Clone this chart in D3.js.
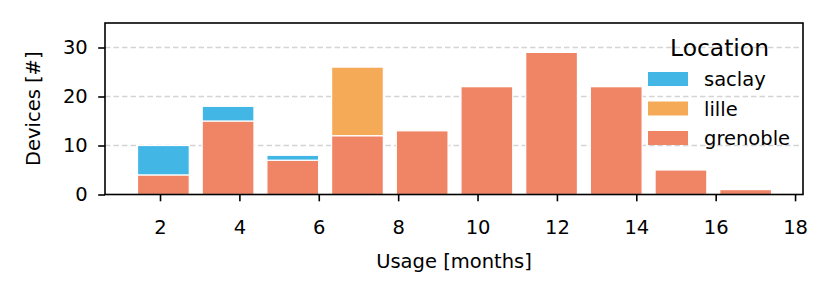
<!DOCTYPE html>
<html>
<head>
<meta charset="utf-8">
<script src="https://cdn.jsdelivr.net/npm/d3@7"></script>
<style>
  html, body { margin: 0; padding: 0; background: #fff; }
  text { font-family: "DejaVu Sans", sans-serif; fill: #000; }
</style>
</head>
<body>
<svg id="chart" width="832" height="295"></svg>
<script>
// ---- data ----
const binEdges = [1.27, 2.90, 4.53, 6.16, 7.79, 9.42, 11.05, 12.68, 14.31, 15.94, 17.57];
const grenoble = [4, 15, 7, 12, 13, 22, 29, 22, 5, 1];
const lille    = [0, 0, 0, 14, 0, 0, 0, 0, 0, 0];
const saclay   = [6, 3, 1, 0, 0, 0, 0, 0, 0, 0];
const seriesKeys = ["grenoble", "lille", "saclay"];
const legendOrder = ["saclay", "lille", "grenoble"];
const colors = { saclay: "#42b7e6", lille: "#f5aa58", grenoble: "#f08566" };
const xTicks = [2, 4, 6, 8, 10, 12, 14, 16, 18];
const yTicks = [0, 10, 20, 30];
const gridTicks = [10, 20, 30];
const xLabel = "Usage [months]";
const yLabel = "Devices [#]";
const legendTitle = "Location";
const rwidth = 0.8;

// ---- layout ----
const svg = d3.select("#chart");
const L = 105, R = 803, T = 23, B = 194.5;
const x = d3.scaleLinear().domain([0.614, 18.2]).range([L, R]);
const y = d3.scaleLinear().domain([0, 35]).range([B, T]);

const rows = grenoble.map((g, i) => ({
  x0: binEdges[i], x1: binEdges[i + 1], grenoble: g, lille: lille[i], saclay: saclay[i]
}));
const stacked = d3.stack().keys(seriesKeys)(rows);

// grid
svg.append("g").selectAll("line").data(gridTicks).join("line")
  .attr("x1", L).attr("x2", R)
  .attr("y1", d => y(d)).attr("y2", d => y(d))
  .attr("stroke", "#d4d4d4").attr("stroke-width", 1.3)
  .attr("stroke-dasharray", "5.5,3");

// bars
const barsG = svg.append("g");
stacked.forEach(layer => {
  barsG.append("g").selectAll("rect")
    .data(layer.filter(d => d[1] - d[0] > 0))
    .join("rect")
    .attr("x", d => {
      const w = d.data.x1 - d.data.x0;
      return x(d.data.x0 + w * (1 - rwidth) / 2);
    })
    .attr("width", d => {
      const w = d.data.x1 - d.data.x0;
      return x(d.data.x0 + w * rwidth) - x(d.data.x0);
    })
    .attr("y", d => y(d[1]))
    .attr("height", d => y(d[0]) - y(d[1]))
    .attr("fill", colors[layer.key])
    .attr("stroke", "#fff").attr("stroke-width", 1.2);
});

// axes
const fs = 19.5;
const xAxis = svg.append("g").attr("transform", `translate(0,${B})`)
  .call(d3.axisBottom(x).tickValues(xTicks).tickSize(6.8).tickPadding(18.5).tickFormat(d3.format("d")));
const yAxis = svg.append("g").attr("transform", `translate(${L},0)`)
  .call(d3.axisLeft(y).tickValues(yTicks).tickSize(6.8).tickPadding(10.5).tickFormat(d3.format("d")));
[xAxis, yAxis].forEach(a => {
  a.select(".domain").remove();
  a.selectAll(".tick line").attr("stroke", "#000").attr("stroke-width", 1.6);
  a.selectAll(".tick text").attr("font-family", "DejaVu Sans").attr("font-size", fs).attr("fill", "#000");
});

// spines
svg.append("rect").attr("x", L).attr("y", T).attr("width", R - L).attr("height", B - T)
  .attr("fill", "none").attr("stroke", "#000").attr("stroke-width", 1.6);

// labels
svg.append("text").attr("x", (L + R) / 2).attr("y", 268).attr("text-anchor", "middle")
  .attr("font-size", fs).text(xLabel);
svg.append("text").attr("transform", `translate(40,${(T + B) / 2}) rotate(-90)`)
  .attr("text-anchor", "middle").attr("font-size", fs).text(yLabel);

// legend
const lg = svg.append("g");
lg.append("text").attr("x", 719.5).attr("y", 56).attr("text-anchor", "middle")
  .attr("font-size", 23.4).text(legendTitle);
legendOrder.forEach((k, i) => {
  const cy = 79 + i * 29.5;
  lg.append("rect").attr("x", 648).attr("y", cy - 7).attr("width", 40).attr("height", 14)
    .attr("fill", colors[k]);
  lg.append("text").attr("x", 704).attr("y", cy).attr("dy", "0.36em")
    .attr("font-size", fs).text(k);
});
</script>
</body>
</html>
